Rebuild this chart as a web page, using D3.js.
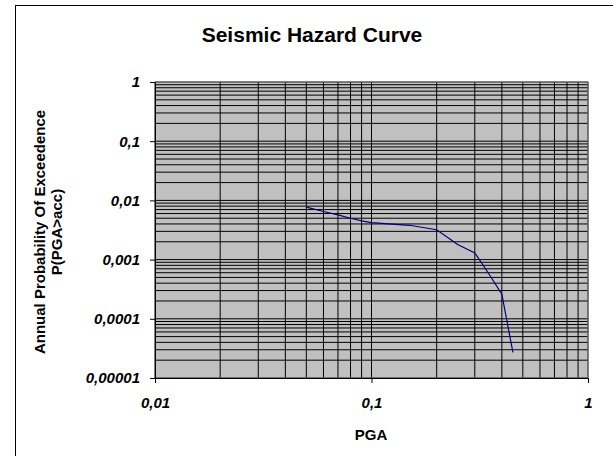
<!DOCTYPE html>
<html>
<head>
<meta charset="utf-8">
<script src="https://cdn.jsdelivr.net/npm/d3@7"></script>
<style>
  body { margin: 0; background: #fff; }
  svg { display: block; }
  text { font-family: "Liberation Sans", Arial, sans-serif; }
</style>
</head>
<body>
<div class="canva"></div>
<script>
// data
const pga = [0.05, 0.06, 0.07, 0.08, 0.09, 0.1, 0.12, 0.15, 0.2, 0.25, 0.3, 0.35, 0.4, 0.45];
const prob = [0.0077, 0.0065, 0.0057, 0.0050, 0.0045, 0.0042, 0.0040, 0.0038, 0.0032, 0.0018, 0.0013, 0.00056, 0.00026, 0.000027];

const xTicks = [0.01, 0.1, 1];
const xTickLabels = ["0,01", "0,1", "1"];
const yTicks = [0.00001, 0.0001, 0.001, 0.01, 0.1, 1];
const yTickLabels = ["0,00001", "0,0001", "0,001", "0,01", "0,1", "1"];

const width = 613, height = 456;
const plot = { left: 155, right: 588, top: 82, bottom: 378 };

const svg = d3.select(".canva").append("svg")
    .attr("width", width)
    .attr("height", height);

// outer chart frame
svg.append("rect")
    .attr("x", 15.5).attr("y", 5.5)
    .attr("width", 620).attr("height", 480)
    .attr("fill", "#fff")
    .attr("stroke", "#000");

const x = d3.scaleLog().domain([0.01, 1]).range([plot.left, plot.right]);
const y = d3.scaleLog().domain([0.00001, 1]).range([plot.bottom, plot.top]);

// plot area
svg.append("rect")
    .attr("x", plot.left).attr("y", plot.top)
    .attr("width", plot.right - plot.left)
    .attr("height", plot.bottom - plot.top)
    .attr("fill", "#c0c0c0");

// gridlines, major + minor
svg.append("g").selectAll("line")
    .data(x.ticks())
    .enter().append("line")
    .attr("x1", d => x(d)).attr("x2", d => x(d))
    .attr("y1", plot.top).attr("y2", plot.bottom)
    .attr("stroke", "#000");

svg.append("g").selectAll("line")
    .data(y.ticks())
    .enter().append("line")
    .attr("y1", d => y(d)).attr("y2", d => y(d))
    .attr("x1", plot.left).attr("x2", plot.right)
    .attr("stroke", "#000");

// plot border
svg.append("rect")
    .attr("x", plot.left).attr("y", plot.top)
    .attr("width", plot.right - plot.left)
    .attr("height", plot.bottom - plot.top)
    .attr("fill", "none")
    .attr("stroke", "#808080");

// axes
svg.append("g")
    .attr("transform", `translate(0,${plot.bottom})`)
    .call(d3.axisBottom(x).tickValues(xTicks)
        .tickFormat((d, i) => xTickLabels[i]).tickSizeInner(5).tickSizeOuter(0).tickPadding(14));

svg.append("g")
    .attr("transform", `translate(${plot.left},0)`)
    .call(d3.axisLeft(y).tickValues(yTicks)
        .tickFormat((d, i) => yTickLabels[i]).tickSizeInner(5).tickSizeOuter(0).tickPadding(10));

svg.selectAll(".domain").attr("stroke", "#000");
svg.selectAll(".tick line").attr("stroke", "#000");
svg.selectAll(".tick text")
    .attr("fill", "#000")
    .style("font-family", "'Liberation Sans', Arial, sans-serif")
    .style("font-size", "15px")
    .style("font-weight", "bold")
    .style("font-style", "italic");

// hazard curve
svg.append("path")
    .datum(pga.map((d, i) => [d, prob[i]]))
    .attr("fill", "none")
    .attr("stroke", "#000080")
    .attr("stroke-width", 1.2)
    .attr("d", d3.line().x(d => x(d[0])).y(d => y(d[1])));

// titles
svg.append("text")
    .attr("x", 312).attr("y", 42)
    .attr("text-anchor", "middle")
    .style("font-size", "21px").style("font-weight", "bold")
    .text("Seismic Hazard Curve");

svg.append("text")
    .attr("x", 371).attr("y", 440)
    .attr("text-anchor", "middle")
    .style("font-size", "15px").style("font-weight", "bold")
    .text("PGA");

const yTitle = svg.append("text")
    .attr("transform", "translate(45,232) rotate(-90)")
    .attr("text-anchor", "middle")
    .style("font-size", "15px").style("font-weight", "bold");
yTitle.append("tspan").attr("x", 0).attr("dy", 0).text("Annual Probability Of Exceedence");
yTitle.append("tspan").attr("x", 0).attr("dy", 17).text("P(PGA>acc)");
</script>
</body>
</html>
